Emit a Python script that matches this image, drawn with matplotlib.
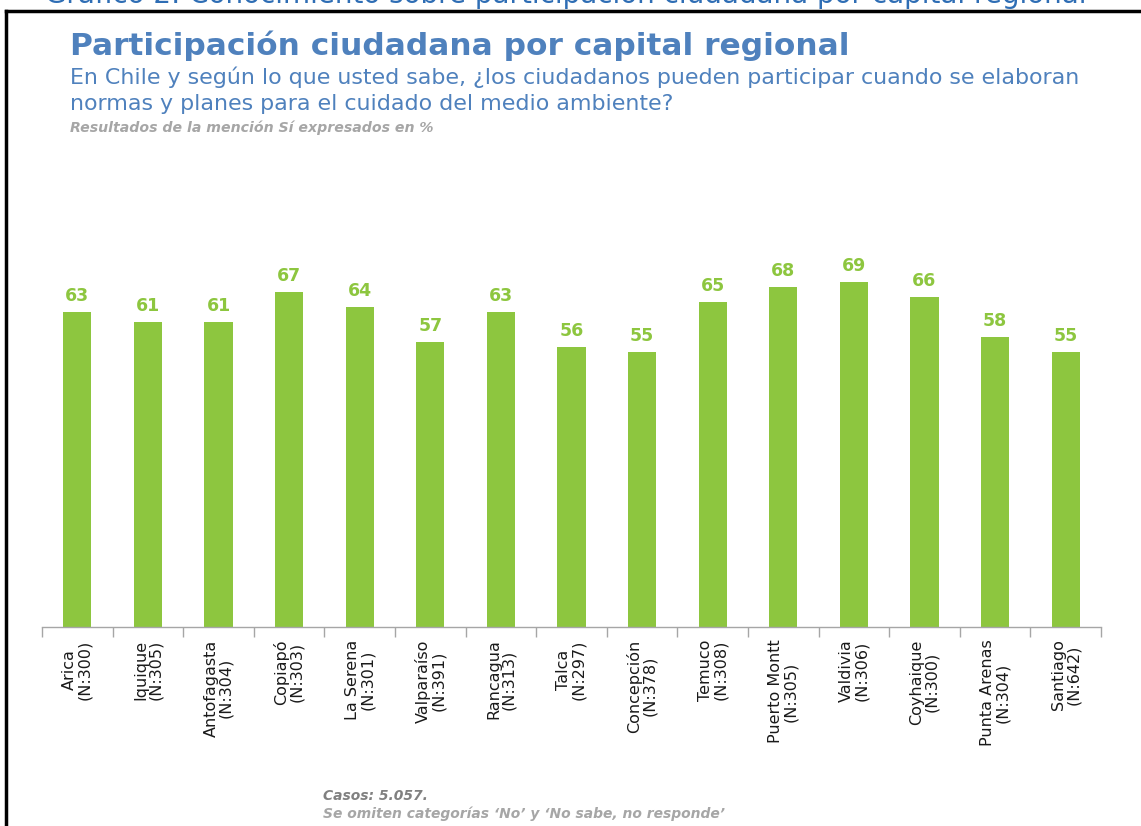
import matplotlib
matplotlib.use("Agg")
import matplotlib.pyplot as plt
from matplotlib.lines import Line2D

cities = ["Arica", "Iquique", "Antofagasta", "Copiapó", "La Serena", "Valparaíso",
          "Rancagua", "Talca", "Concepción", "Temuco", "Puerto Montt", "Valdivia",
          "Coyhaique", "Punta Arenas", "Santiago"]
cases = [300, 305, 304, 303, 301, 391, 313, 297, 378, 308, 305, 306, 300, 304, 642]
values = [63, 61, 61, 67, 64, 57, 63, 56, 55, 65, 68, 69, 66, 58, 55]
tick_labels = [f"{c}\n(N:{n})" for c, n in zip(cities, cases)]

W, H = 1141, 826
fig = plt.figure(figsize=(W / 100, H / 100), dpi=100)
fig.patch.set_facecolor("white")

green = "#8DC63F"
blue = "#4F81BD"

ax = fig.add_axes([42 / W, (H - 627) / H, (1101 - 42) / W, 400 / H])
x = list(range(len(values)))
bars = ax.bar(x, values, width=0.4, color=green, zorder=2)
ax.set_xlim(-0.5, len(values) - 0.5)
ax.set_ylim(0, 80)
for xi, v in zip(x, values):
    ax.annotate(f"{v}", (xi, v), xytext=(0, 5), textcoords="offset points",
                ha="center", va="bottom", color=green, fontsize=12.5, fontweight="bold")

for s in ["top", "right", "left"]:
    ax.spines[s].set_visible(False)
ax.spines["bottom"].set_color("#A6A6A6")
ax.spines["bottom"].set_linewidth(1.0)
ax.set_yticks([])
ax.set_xticks([i - 0.5 for i in range(len(values) + 1)], minor=False)
ax.set_xticklabels([])
ax.tick_params(axis="x", which="major", length=7, color="#A6A6A6", width=1.0)
ax.set_xticks(x, minor=True)
ax.set_xticklabels(tick_labels, minor=True, rotation=90, fontsize=11.5,
                   color="#1A1A1A", ha="center", va="top", multialignment="center",
                   linespacing=1.0)
ax.tick_params(axis="x", which="minor", length=0, pad=9)

# header texts
fig.text(45 / W, 1 - 3 / H, "Gráfico 2: Conocimiento sobre participación ciudadana por capital regional",
         ha="left", va="baseline", fontsize=20, color="#2E6DB4")
fig.text(70 / W, 1 - 55 / H, "Participación ciudadana por capital regional",
         ha="left", va="baseline", fontsize=22.5, fontweight="bold", color=blue)
fig.text(70 / W, 1 - 84 / H, "En Chile y según lo que usted sabe, ¿los ciudadanos pueden participar cuando se elaboran",
         ha="left", va="baseline", fontsize=15.9, color=blue)
fig.text(70 / W, 1 - 110 / H, "normas y planes para el cuidado del medio ambiente?",
         ha="left", va="baseline", fontsize=15.9, color=blue)
fig.text(70 / W, 1 - 132 / H, "Resultados de la mención Sí expresados en %",
         ha="left", va="baseline", fontsize=10.2, fontweight="bold", fontstyle="italic", color="#A6A6A6")

fig.text(323 / W, 1 - 800 / H, "Casos: 5.057.",
         ha="left", va="baseline", fontsize=10, fontweight="bold", fontstyle="italic", color="#808080")
fig.text(323 / W, 1 - 818 / H, "Se omiten categorías ‘No’ y ‘No sabe, no responde’",
         ha="left", va="baseline", fontsize=10, fontweight="bold", fontstyle="italic", color="#A6A6A6")

# frame lines
fig.add_artist(Line2D([6 / W, 1], [1 - 11 / H, 1 - 11 / H], color="black", lw=2.5,
                      transform=fig.transFigure))
fig.add_artist(Line2D([6 / W, 6 / W], [0, 1 - 11 / H], color="black", lw=2.5,
                      transform=fig.transFigure))

fig.savefig("out.png", dpi=100, facecolor="white")
